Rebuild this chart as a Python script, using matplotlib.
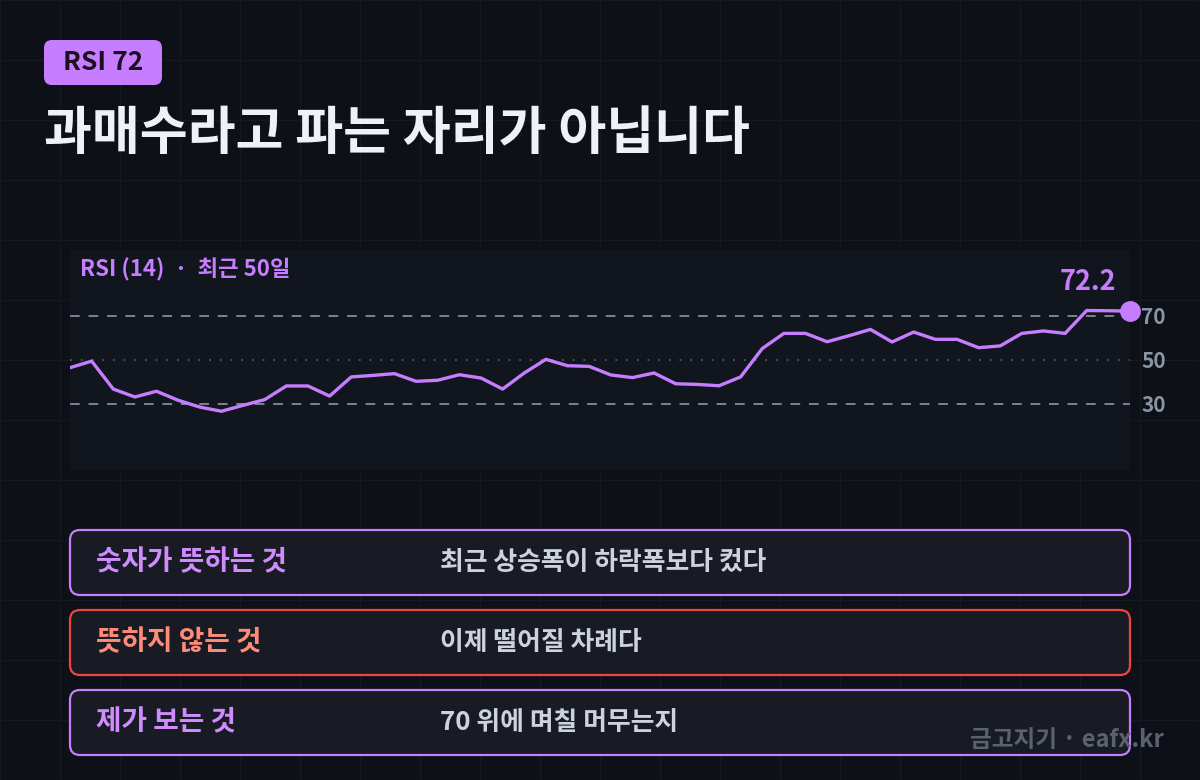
import matplotlib
matplotlib.use("Agg")
import matplotlib.pyplot as plt
from matplotlib.patches import FancyBboxPatch

plt.rcParams['font.family'] = ['Noto Sans CJK KR', 'DejaVu Sans']

# --- datos ---
rsi = [46.5, 49.5, 36.8, 33.2, 35.8, 31.7, 28.6, 26.7, 29.4, 32.0,
       38.2, 38.2, 33.6, 42.3, 43.0, 43.8, 40.3, 40.8, 43.3, 41.8,
       36.8, 44.1, 50.3, 47.4, 47.1, 43.2, 42.0, 44.1, 39.2, 38.9,
       38.3, 42.3, 55.2, 62.1, 62.1, 58.3, 61.0, 63.9, 58.2, 62.7,
       59.4, 59.4, 55.6, 56.4, 62.1, 63.2, 62.1, 72.5, 72.4, 72.2]
niveles = [30, 50, 70]
badge = "RSI 72"
titulo = "과매수라고 파는 자리가 아닙니다"
etiqueta_panel = "RSI (14)  ·  최근 50일"
filas_izq = ["숫자가 뜻하는 것", "뜻하지 않는 것", "제가 보는 것"]
filas_der = ["최근 상승폭이 하락폭보다 컸다", "이제 떨어질 차례다", "70 위에 며칠 머무는지"]
pie = "금고지기 · eafx.kr"

# --- colores ---
FONDO = "#0d1016"
REJILLA = "#151922"
PANEL = "#11151d"
CAJA = "#181b24"
MORADO = "#c77dff"
ROJO = "#f0443f"
GRIS = "#8a94a3"

W, H = 1200, 780
fig = plt.figure(figsize=(12, 7.8), dpi=100, facecolor=FONDO)

# Fondo en coordenadas de pixel
fondo = fig.add_axes([0, 0, 1, 1])
fondo.set_xlim(0, W)
fondo.set_ylim(H, 0)
fondo.axis("off")
for gx in range(0, W + 1, 60):
    fondo.axvline(gx, color=REJILLA, lw=1, zorder=0)
for gy in range(0, H + 1, 60):
    fondo.axhline(gy, color=REJILLA, lw=1, zorder=0)

# Badge
fondo.add_patch(FancyBboxPatch((44, 40), 118, 45, boxstyle="round,pad=0,rounding_size=8",
                               fc=MORADO, ec="none", zorder=2))
fondo.text(103, 63, badge, ha="center", va="center", fontsize=19, fontweight="bold",
           color="#1a1020", zorder=3)

# Titulo
fondo.text(44, 134, titulo, ha="left", va="center", fontsize=37.5, fontweight="heavy",
           color="#eef1f5", zorder=3)

# Cajas de abajo
bordes = [MORADO, ROJO, MORADO]
colores_izq = ["#d08cff", "#ff8a7a", "#d08cff"]
for i in range(3):
    y0 = 530 + i * 80
    fondo.add_patch(FancyBboxPatch((70, y0), 1060, 65, boxstyle="round,pad=0,rounding_size=10",
                                   fc=CAJA, ec=bordes[i], lw=1.6, zorder=2))
    fondo.text(96, y0 + 32, filas_izq[i], ha="left", va="center", fontsize=20,
               fontweight="bold", color=colores_izq[i], zorder=3)
    fondo.text(440, y0 + 32, filas_der[i], ha="left", va="center", fontsize=18.6,
               fontweight="bold", color="#cdd3db", zorder=3)

fondo.text(1164, 740, pie, ha="right", va="center", fontsize=17, fontweight="bold",
           color="#59626f", zorder=4)

# Grafica RSI
ax = fig.add_axes([70 / W, (H - 470) / H, 1060 / W, 220 / H])
ax.set_facecolor(PANEL)
x = list(range(len(rsi)))
ax.set_xlim(0, len(rsi) - 1)
ax.set_ylim(0, 100)
for s in ax.spines.values():
    s.set_visible(False)
ax.set_xticks([])
ax.yaxis.tick_right()
ax.set_yticks(niveles)
ax.set_yticklabels([str(v) for v in niveles])
ax.tick_params(axis="y", length=0, pad=8, labelsize=15, labelcolor=GRIS)
for lab in ax.get_yticklabels():
    lab.set_fontweight("bold")

ax.axhline(70, color="#7b8490", lw=1.4, ls=(0, (5, 4.5)), zorder=1)
ax.axhline(30, color="#7b8490", lw=1.4, ls=(0, (5, 4.5)), zorder=1)
ax.axhline(50, color="#4a515c", lw=1.4, ls=(0, (1, 4.5)), zorder=1)

ax.plot(x, rsi, color=MORADO, lw=2.4, zorder=3)
ax.plot(x[-1], rsi[-1], "o", ms=14, color=MORADO, clip_on=False, zorder=4)
ax.annotate(f"{rsi[-1]:.1f}", (x[-1], rsi[-1]), xytext=(-30, 21), textcoords="offset points",
            ha="center", va="center", fontsize=19.5, fontweight="bold", color=MORADO)

ax.text(10 / 1060, 1 - 20 / 220, etiqueta_panel, transform=ax.transAxes, ha="left",
        va="center", fontsize=16, fontweight="bold", color=MORADO)

fig.savefig("out.png", dpi=100, facecolor=FONDO)
